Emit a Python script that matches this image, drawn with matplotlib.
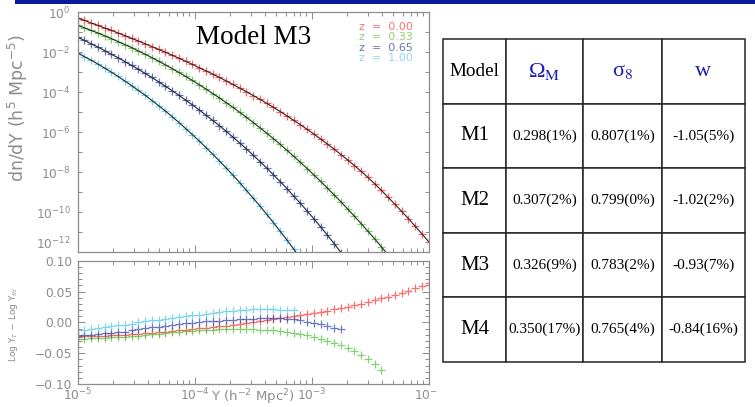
import numpy as np
import matplotlib
matplotlib.use("Agg")
import matplotlib.pyplot as plt
from matplotlib.ticker import NullFormatter, MultipleLocator
from matplotlib.patches import Rectangle

# log10(Y) sampling of the points (same for every redshift)
log_y_grid = np.linspace(-5, -2, 53)

redshifts = ["0.00", "0.33", "0.65", "1.00"]

# top panel: log10(dn/dY) for each redshift
dndy_z000 = [-0.30, -0.42, -0.55, -0.67, -0.80, -0.92, -1.05, -1.18, -1.32, -1.45,
             -1.59, -1.73, -1.87, -2.01, -2.16, -2.31, -2.46, -2.62, -2.78, -2.94,
             -3.10, -3.27, -3.44, -3.62, -3.80, -3.98, -4.17, -4.36, -4.56, -4.76,
             -4.97, -5.19, -5.41, -5.63, -5.86, -6.10, -6.34, -6.60, -6.85, -7.12,
             -7.39, -7.67, -7.96, -8.26, -8.58, -8.91, -9.26, -9.60, -9.96, -10.32,
             -10.70, -11.08, -11.47]
dndy_z033 = [-0.67, -0.79, -0.92, -1.05, -1.19, -1.33, -1.48, -1.63, -1.78, -1.95,
             -2.11, -2.28, -2.46, -2.64, -2.83, -3.02, -3.22, -3.42, -3.63, -3.85,
             -4.07, -4.29, -4.53, -4.76, -5.01, -5.26, -5.52, -5.78, -6.05, -6.33,
             -6.61, -6.91, -7.20, -7.51, -7.82, -8.14, -8.46, -8.80, -9.14, -9.48,
             -9.84, -10.20, -10.57, -10.95, -11.33, -11.73, -12.13]
dndy_z065 = [-1.26, -1.42, -1.59, -1.75, -1.93, -2.11, -2.29, -2.48, -2.67, -2.86,
             -3.07, -3.27, -3.49, -3.71, -3.93, -4.16, -4.40, -4.64, -4.89, -5.15,
             -5.41, -5.68, -5.96, -6.25, -6.54, -6.84, -7.15, -7.47, -7.79, -8.13,
             -8.47, -8.82, -9.19, -9.56, -9.94, -10.33, -10.73, -11.15, -11.57, -12.01,
             -12.46]
dndy_z100 = [-2.05, -2.23, -2.41, -2.60, -2.80, -3.01, -3.22, -3.45, -3.68, -3.92,
             -4.16, -4.42, -4.68, -4.95, -5.23, -5.52, -5.82, -6.13, -6.44, -6.77,
             -7.10, -7.44, -7.79, -8.15, -8.52, -8.91, -9.30, -9.69, -10.10, -10.52,
             -10.95, -11.39, -11.84, -12.30]

# bottom panel: Log Y_T - Log Y_fit
res_z000 = [-0.0232, -0.0227, -0.0222, -0.0222, -0.0216, -0.0211, -0.0205, -0.0200, -0.0195, -0.0189,
            -0.0178, -0.0173, -0.0162, -0.0151, -0.0141, -0.0130, -0.0119, -0.0108, -0.0097, -0.0086,
            -0.0076, -0.0065, -0.0054, -0.0038, -0.0027, -0.0016, 0.0000, 0.0016, 0.0032, 0.0049,
            0.0065, 0.0081, 0.0097, 0.0114, 0.0130, 0.0151, 0.0168, 0.0189, 0.0211, 0.0232,
            0.0254, 0.0276, 0.0303, 0.0330, 0.0357, 0.0389, 0.0416, 0.0449, 0.0481, 0.0514,
            0.0551, 0.0589, 0.0632]
res_z033 = [-0.0270, -0.0265, -0.0259, -0.0254, -0.0249, -0.0243, -0.0238, -0.0232, -0.0222, -0.0216,
            -0.0205, -0.0195, -0.0184, -0.0173, -0.0162, -0.0157, -0.0146, -0.0141, -0.0130, -0.0124,
            -0.0119, -0.0114, -0.0114, -0.0108, -0.0108, -0.0108, -0.0114, -0.0119, -0.0124, -0.0130,
            -0.0141, -0.0157, -0.0168, -0.0189, -0.0211, -0.0238, -0.0265, -0.0297, -0.0335, -0.0373,
            -0.0416, -0.0465, -0.0535, -0.0600, -0.0676, -0.0768]
res_z065 = [-0.0220, -0.0210, -0.0200, -0.0190, -0.0180, -0.0170, -0.0160, -0.0150, -0.0130, -0.0110,
            -0.0097, -0.0080, -0.0070, -0.0054, -0.0040, -0.0027, -0.0016, -0.0005, 0.0005, 0.0016,
            0.0022, 0.0027, 0.0032, 0.0043, 0.0049, 0.0059, 0.0059, 0.0065, 0.0065, 0.0065,
            0.0065, 0.0059, 0.0049, 0.0032, 0.0011, -0.0011, -0.0032, -0.0059, -0.0086, -0.0114]
res_z100 = [-0.0125, -0.0120, -0.0103, -0.0092, -0.0076, -0.0065, -0.0049, -0.0038, -0.0022, 0.0000,
            0.0016, 0.0032, 0.0043, 0.0059, 0.0070, 0.0086, 0.0097, 0.0114, 0.0124, 0.0141,
            0.0151, 0.0168, 0.0178, 0.0189, 0.0195, 0.0205, 0.0211, 0.0211, 0.0211, 0.0211,
            0.0205, 0.0200, 0.0195]

# table
models = ["M1", "M2", "M3", "M4"]
omega_m = ["0.298(1%)", "0.307(2%)", "0.326(9%)", "0.350(17%)"]
sigma_8 = ["0.807(1%)", "0.799(0%)", "0.783(2%)", "0.765(4%)"]
w_de = ["-1.05(5%)", "-1.02(2%)", "-0.93(7%)", "-0.84(16%)"]
table_header = ["Model", r"Ω$_\mathrm{M}$", r"σ$_\mathrm{8}$", "w"]

mark_colors = ["#ff3b3b", "#5cc245", "#3a4fa6", "#55c8e8"]
text_colors = ["#ff7070", "#8fd070", "#6676b4", "#8fd8f0"]
grey = "#8c8c8c"

W, H = 755, 407
fig = plt.figure(figsize=(W / 100, H / 100), dpi=100)

# dark blue bar along the top
fig.add_artist(Rectangle((15 / W, 1 - 4 / H), 740 / W, 4 / H,
                         transform=fig.transFigure, color="#0b1a98", lw=0))

ax_top = fig.add_axes([77.7 / W, 1 - 252.3 / H, 351 / W, 240.3 / H])
ax_bot = fig.add_axes([77.7 / W, 1 - 384 / H, 351 / W, 123.3 / H])


def style_axes(ax):
    for sp in ax.spines.values():
        sp.set_color(grey)
        sp.set_linewidth(0.9)
    ax.tick_params(which="both", direction="in", top=True, right=True,
                   color=grey, width=0.7, labelcolor=grey, labelsize=8.8)
    ax.tick_params(which="major", length=5)
    ax.tick_params(which="minor", length=3)


################################################################
# top panel
top_series = [dndy_z000, dndy_z033, dndy_z065, dndy_z100]
for vals, col in zip(top_series, mark_colors):
    x = 10 ** log_y_grid[:len(vals)]
    y = 10 ** np.array(vals)
    ax_top.plot(x, y, ls="none", marker="+", ms=6, mew=0.9, color=col, alpha=0.8)
    ax_top.plot(x, y, color="#262626", lw=0.8)

ax_top.set_xscale("log")
ax_top.set_yscale("log")
ax_top.set_xlim(1e-5, 1e-2)
ax_top.set_ylim(1e-12, 1)
major_dec = [-12, -10, -8, -6, -4, -2, 0]
ax_top.set_yticks([10.0 ** d for d in major_dec],
                  labels=[r"$10^{%d}$" % d for d in major_dec])
ax_top.set_yticks([10.0 ** d for d in [-11, -9, -7, -5, -3, -1]], minor=True)
ax_top.yaxis.set_minor_formatter(NullFormatter())
style_axes(ax_top)
ax_top.tick_params(which="both", axis="y", length=3)
ax_top.tick_params(axis="x", labelbottom=False)
ax_top.tick_params(axis="y", pad=5)
ax_top.get_yticklabels()[0].set_va("bottom")

ax_top.text(0.5, 0.895, "Model M3", transform=ax_top.transAxes, ha="center",
            va="center", fontsize=19.5, family="Liberation Serif")
for i, (zl, col) in enumerate(zip(redshifts, text_colors)):
    ax_top.text(0.955, 0.937 - i * 0.0425, "z  =  " + zl, transform=ax_top.transAxes,
                ha="right", va="center", fontsize=8, color=col)

fig.text(18 / W, 1 - 108 / H, r"dn/dY (h$^5$ Mpc$^{-5}$)", rotation=90,
         ha="center", va="center", fontsize=12.5, color=grey)

################################################################
# bottom panel
bot_series = [res_z000, res_z033, res_z065, res_z100]
for vals, col in zip(bot_series, mark_colors):
    x = 10 ** log_y_grid[:len(vals)]
    ax_bot.plot(x, vals, ls="none", marker="+", ms=6, mew=0.9, color=col, alpha=0.75)

ax_bot.set_xscale("log")
ax_bot.set_xlim(1e-5, 1e-2)
ax_bot.set_ylim(-0.1, 0.1)
ax_bot.set_xticks([1e-5, 1e-4, 1e-3, 1e-2],
                  labels=[r"$10^{-5}$", r"$10^{-4}$", r"$10^{-3}$", r"$10^{-2}$"])
ax_bot.set_yticks([-0.1, -0.05, 0.0, 0.05, 0.1],
                  labels=["\u22120.10", "\u22120.05", "0.00", "0.05", "0.10"])
ax_bot.yaxis.set_minor_locator(MultipleLocator(0.01))
style_axes(ax_bot)
ax_bot.tick_params(axis="y", pad=4)
ax_bot.tick_params(axis="x", pad=2)

fig.text(253 / W, 1 - 397 / H, r"Y (h$^{-2}$ Mpc$^2$)", ha="center", va="center",
         fontsize=9.5, color=grey)
fig.text(14 / W, 1 - 324 / H, r"Log Y$_T$ $-$ Log Y$_{fit}$", rotation=90,
         ha="center", va="center", fontsize=6.5, color=grey)

################################################################
# table (white area also clips the last x label)
ax_tab = fig.add_axes([437 / W, 0, 318 / W, 399 / H])
ax_tab.set_xticks([])
ax_tab.set_yticks([])
for sp in ax_tab.spines.values():
    sp.set_visible(False)
ax_tab.set_facecolor("white")

cells = [table_header] + [list(r) for r in zip(models, omega_m, sigma_8, w_de)]
col_w = [63, 77, 79, 83]
tab = ax_tab.table(cellText=cells, colWidths=[c / sum(col_w) for c in col_w],
                   cellLoc="center", bbox=[6 / 318, 45 / 399, 302 / 318, 323 / 399])
tab.auto_set_font_size(False)
for (r, c), cell in tab.get_celld().items():
    cell.set_edgecolor("#262626")
    cell.set_linewidth(1.1)
    txt = cell.get_text()
    txt.set_fontfamily("Liberation Serif")
    txt.set_math_fontfamily("stix")
    if r == 0:
        txt.set_fontsize(13.8 if c == 0 else 16)
        if c > 0:
            txt.set_color("#1c1cb0")
    elif c == 0:
        txt.set_fontsize(15)
    else:
        txt.set_fontsize(11)

fig.savefig("out.png", dpi=100)
